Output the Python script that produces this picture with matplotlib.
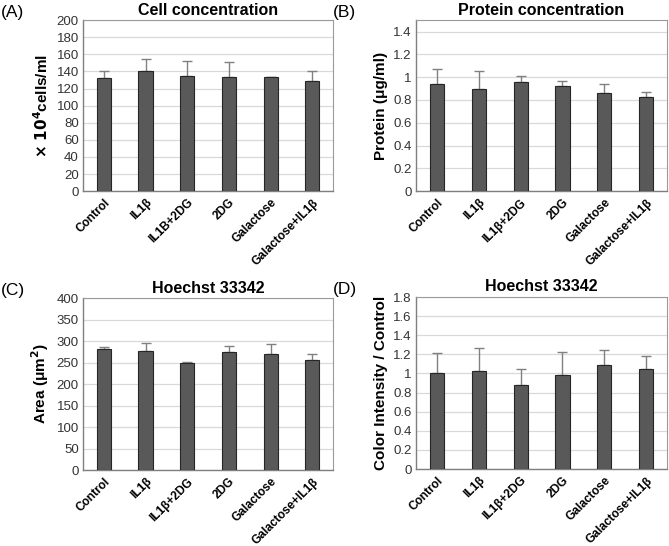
import matplotlib.pyplot as plt
import numpy as np

plt.rcParams['font.family'] = ['Liberation Sans', 'DejaVu Sans']

# data
groups_a = ['Control', 'IL1β', 'IL1B+2DG', '2DG', 'Galactose', 'Galactose+IL1β']
groups = ['Control', 'IL1β', 'IL1β+2DG', '2DG', 'Galactose', 'Galactose+IL1β']

cell_mean = [131.8, 140.7, 135.0, 134.1, 134.0, 129.4]
cell_err = [8.5, 13.7, 17.4, 16.4, 0.0, 10.6]

protein_mean = [0.937, 0.896, 0.955, 0.920, 0.861, 0.826]
protein_err = [0.135, 0.160, 0.053, 0.047, 0.076, 0.044]

area_mean = [281, 276.5, 248, 274, 271, 255.5]
area_err = [5, 18.5, 3, 14, 22, 14]

color_mean = [1.003, 1.031, 0.877, 0.989, 1.090, 1.049]
color_err = [0.210, 0.234, 0.172, 0.234, 0.154, 0.136]

fig = plt.figure(figsize=(6.69, 5.46), dpi=100)

panels = [
    # rect, label, title, ylabel, names, mean, err, ymax, step
    ([0.124, 0.650, 0.374, 0.313], '(A)', 'Cell concentration', r'$\mathbf{\times\ 10^4}$cells/ml',
     groups_a, cell_mean, cell_err, 200, 20),
    ([0.622, 0.650, 0.375, 0.313], '(B)', 'Protein concentration', 'Protein (μg/ml)',
     groups, protein_mean, protein_err, 1.5, 0.2),
    ([0.124, 0.139, 0.374, 0.315], '(C)', 'Hoechst 33342', 'Area (μm$^\\mathbf{2}$)',
     groups, area_mean, area_err, 400, 50),
    ([0.622, 0.141, 0.375, 0.315], '(D)', 'Hoechst 33342', 'Color Intensity / Control',
     groups, color_mean, color_err, 1.8, 0.2),
]

for rect, lab, title, ylab, names, mean, err, ymax, step in panels:
    ax = fig.add_axes(rect)
    x = np.arange(len(names))
    ax.bar(x, mean, width=0.34, color='#595959', edgecolor='#262626', linewidth=0.8, zorder=3)
    ax.errorbar(x, mean, yerr=[np.zeros(len(err)), err], fmt='none', ecolor='#808080',
                elinewidth=1.0, capsize=3.5, capthick=1.0, zorder=2)
    ax.set_xlim(-0.5, len(names) - 0.5)
    ax.set_ylim(0, ymax)
    ticks = np.arange(0, ymax + 1e-9, step)
    ax.set_yticks(ticks)
    ax.set_yticklabels(['{:g}'.format(round(t, 2)) for t in ticks], fontsize=9.5, color='#333333')
    ax.set_xticks(x)
    ax.set_xticklabels(names, rotation=45, ha='right', rotation_mode='anchor',
                       fontsize=8.6, fontweight='bold')
    ax.tick_params(axis='both', length=0, pad=3)
    ax.tick_params(axis='x', pad=4)
    ax.yaxis.grid(True, color='#d9d9d9', linewidth=0.9, zorder=0)
    ax.set_axisbelow(True)
    for s in ['top', 'right']:
        ax.spines[s].set_color('#9a9a9a')
        ax.spines[s].set_linewidth(0.8)
    for s in ['left', 'bottom']:
        ax.spines[s].set_color('#7f7f7f')
        ax.spines[s].set_linewidth(1.0)
    ax.set_title(title, fontsize=11.5, fontweight='bold', pad=4)
    ax.set_ylabel(ylab, fontsize=11, fontweight='bold', labelpad=4)
    ax.text(-0.33, 1.0, lab, transform=ax.transAxes, fontsize=12.5, va='bottom', ha='left')

fig.savefig('out.png', dpi=100)
